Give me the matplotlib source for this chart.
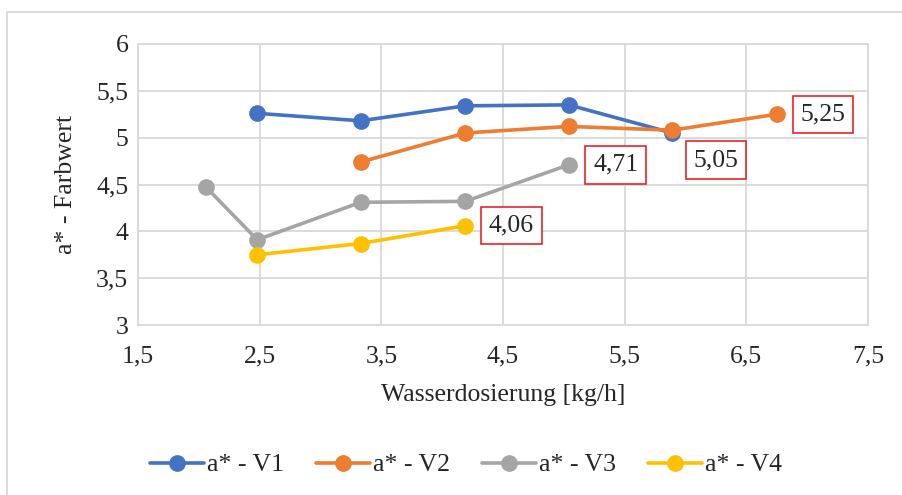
import matplotlib
matplotlib.use("Agg")
import matplotlib.pyplot as plt
from matplotlib.patches import Rectangle

plt.rcParams['font.family'] = ['Liberation Serif', 'DejaVu Serif']

# Wasserdosierung [kg/h] and a* colour values per trial series
x_v1 = [2.48, 3.33, 4.19, 5.04, 5.89]
y_v1 = [5.26, 5.18, 5.34, 5.35, 5.05]
x_v2 = [3.33, 4.19, 5.04, 5.89, 6.75]
y_v2 = [4.74, 5.05, 5.12, 5.08, 5.25]
x_v3 = [2.06, 2.48, 3.33, 4.19, 5.04]
y_v3 = [4.47, 3.91, 4.31, 4.32, 4.71]
x_v4 = [2.48, 3.33, 4.19]
y_v4 = [3.75, 3.87, 4.06]

series_names = ["a* - V1", "a* - V2", "a* - V3", "a* - V4"]
colors = ["#4472C4", "#ED7D31", "#A5A5A5", "#FFC000"]

x_ticks = [1.5, 2.5, 3.5, 4.5, 5.5, 6.5, 7.5]
y_ticks = [3, 3.5, 4, 4.5, 5, 5.5, 6]

FS = 18.5
TXT = "#262626"


def de_fmt(v, decimals=None):
    s = f"{v:.{decimals}f}" if decimals is not None else f"{v:g}"
    return s.replace(".", ",")


fig = plt.figure(figsize=(9.03, 4.95), dpi=100)
fig.patch.set_facecolor("white")

# outer chart frame
fig.patches.append(Rectangle((7 / 903, -0.1), 1.2, 1 - 12 / 495 + 0.1,
                             transform=fig.transFigure, fill=False,
                             edgecolor="#D9D9D9", linewidth=1.3, zorder=0))

ax = fig.add_axes([138 / 903, 1 - 325 / 495, (868 - 138) / 903, (325 - 44) / 495])

xs = [x_v1, x_v2, x_v3, x_v4]
ys = [y_v1, y_v2, y_v3, y_v4]
for x, y, c, n in zip(xs, ys, colors, series_names):
    ax.plot(x, y, color=c, linewidth=2.6, marker="o", markersize=11,
            label=n, zorder=3, solid_capstyle="round")

ax.set_xlim(1.5, 7.5)
ax.set_ylim(3, 6)
ax.set_xticks(x_ticks)
ax.set_yticks(y_ticks)
ax.set_xticklabels([de_fmt(v) for v in x_ticks])
ax.set_yticklabels([de_fmt(v) for v in y_ticks])
ax.tick_params(axis="x", length=0, labelsize=FS, colors=TXT, pad=15)
ax.tick_params(axis="y", length=0, labelsize=FS, colors=TXT, pad=7)
ax.grid(True, color="#D9D9D9", linewidth=1.3, zorder=0)
for sp in ax.spines.values():
    sp.set_color("#D9D9D9")
    sp.set_linewidth(1.3)

ax.set_xlabel("Wasserdosierung [kg/h]", fontsize=FS, color=TXT, labelpad=12)
ax.set_ylabel("a* - Farbwert", fontsize=FS, color=TXT, labelpad=14)

# value labels at the series end points
label_points = [
    (x_v4[-1], y_v4[-1], 46, 0),
    (x_v3[-1], y_v3[-1], 47, 0),
    (x_v1[-1], y_v1[-1], 44, -27),
    (x_v2[-1], y_v2[-1], 46, 0),
]
for x, y, dx, dy in label_points:
    ax.annotate(de_fmt(y, 2), xy=(x, y), xytext=(dx, dy), textcoords="offset pixels",
                ha="center", va="center", fontsize=FS, color=TXT,
                bbox=dict(boxstyle="square,pad=0.3", facecolor="white",
                          edgecolor="#E8232A", linewidth=1.2), zorder=5)

fig.legend(*ax.get_legend_handles_labels(), loc="center", ncol=4,
           bbox_to_anchor=(466 / 903, 1 - 465 / 495), frameon=False,
           fontsize=FS, handlelength=2.1, columnspacing=1.25, handletextpad=0.12,
           labelcolor=TXT)

fig.savefig("out.png", dpi=100)
